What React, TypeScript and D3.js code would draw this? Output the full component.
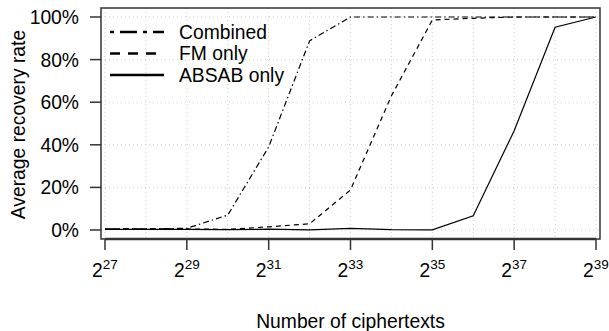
import React from "react";
import * as d3 from "d3";

const exponents = [27, 28, 29, 30, 31, 32, 33, 34, 35, 36, 37, 38, 39];
const combined = [0.5, 0.5, 0.8, 7, 39, 88.8, 100, 100, 100, 100, 100, 100, 100];
const fmOnly = [0.5, 0.5, 0.5, 0.3, 1.5, 2.9, 18.8, 63, 98.6, 99.4, 100, 100, 100];
const absabOnly = [0.3, 0.3, 0.3, 0.2, 0.4, 0.1, 0.8, 0.2, 0.1, 6.7, 46.6, 95.2, 100];
const xTickExps = [27, 29, 31, 33, 35, 37, 39];
const yTicks = [0, 20, 40, 60, 80, 100];
const seriesNames = ["Combined", "FM only", "ABSAB only"];

const W = 609;
const H = 331;
const FONT = "'Liberation Sans', Arial, Helvetica, sans-serif";
const FS = 19.3;

export default function App() {
  const box = { left: 101, right: 600, top: 8, bottom: 239 };
  const x = d3.scaleLinear().domain([27, 39]).range([105, 596]);
  const y = d3.scaleLinear().domain([0, 100]).range([230, 17]);
  const line = d3
    .line<number>()
    .x((_, i) => x(exponents[i]))
    .y((d) => y(d));

  const seriesData = [combined, fmOnly, absabOnly];
  const plotDash = ["1.5,3,6,3", "5,4", ""];
  const legendDash = ["4,6,17,6", "10,8", ""];
  const gridX = d3.range(27, 40);

  return (
    <svg
      width={W}
      height={H}
      style={{ position: "absolute", left: 0, top: 0, background: "#fff" }}
      fontFamily={FONT}
    >
      {/* grid */}
      {gridX.map((e) => (
        <line
          key={"gx" + e}
          x1={x(e)}
          x2={x(e)}
          y1={box.top}
          y2={box.bottom}
          stroke="#cfcfcf"
          strokeWidth={1}
          strokeDasharray="1,3"
        />
      ))}
      {yTicks.map((t) => (
        <line
          key={"gy" + t}
          x1={box.left}
          x2={box.right}
          y1={y(t)}
          y2={y(t)}
          stroke="#cfcfcf"
          strokeWidth={1}
          strokeDasharray="1,3"
        />
      ))}

      {/* series */}
      {seriesData.map((s, i) => (
        <path
          key={"s" + i}
          d={line(s) || ""}
          fill="none"
          stroke="#000"
          strokeWidth={1.2}
          strokeDasharray={plotDash[i] || undefined}
        />
      ))}

      {/* box */}
      <rect
        x={box.left}
        y={box.top}
        width={box.right - box.left}
        height={box.bottom - box.top}
        fill="none"
        stroke="#333"
        strokeWidth={1.5}
      />
      {/* x axis line */}
      <line x1={x(27)} x2={x(39)} y1={box.bottom} y2={box.bottom} stroke="#333" strokeWidth={2.5} />

      {/* x ticks */}
      {xTickExps.map((e) => (
        <g key={"xt" + e}>
          <line x1={x(e)} x2={x(e)} y1={box.bottom} y2={box.bottom + 11} stroke="#333" strokeWidth={1.5} />
          <text x={x(e)} y={277} textAnchor="middle" fontSize={FS} fill="#000">
            2
            <tspan fontSize={13.5} dy={-8}>
              {e}
            </tspan>
          </text>
        </g>
      ))}

      {/* y ticks */}
      {yTicks.map((t) => (
        <g key={"yt" + t}>
          <line x1={box.left - 11} x2={box.left} y1={y(t)} y2={y(t)} stroke="#333" strokeWidth={1.5} />
          <text
            x={79}
            y={y(t)}
            dy="0.36em"
            textAnchor="end"
            fontSize={FS}
            fill="#000"
          >
            {t + "%"}
          </text>
        </g>
      ))}

      {/* axis titles */}
      <text x={(box.left + box.right) / 2} y={328} textAnchor="middle" fontSize={FS} fill="#000">
        Number of ciphertexts
      </text>
      <text
        transform={`translate(25, ${(box.top + box.bottom) / 2 + 1}) rotate(-90)`}
        textAnchor="middle"
        fontSize={FS}
        fill="#000"
      >
        Average recovery rate
      </text>

      {/* legend */}
      {seriesNames.map((n, i) => {
        const ly = 32 + i * 21.5;
        return (
          <g key={"lg" + i}>
            <line
              x1={110}
              x2={164}
              y1={ly}
              y2={ly}
              stroke="#000"
              strokeWidth={2.5}
              strokeDasharray={legendDash[i] || undefined}
            />
            <text x={179} y={ly} dy="0.36em" fontSize={FS} fill="#000">
              {n}
            </text>
          </g>
        );
      })}
    </svg>
  );
}
